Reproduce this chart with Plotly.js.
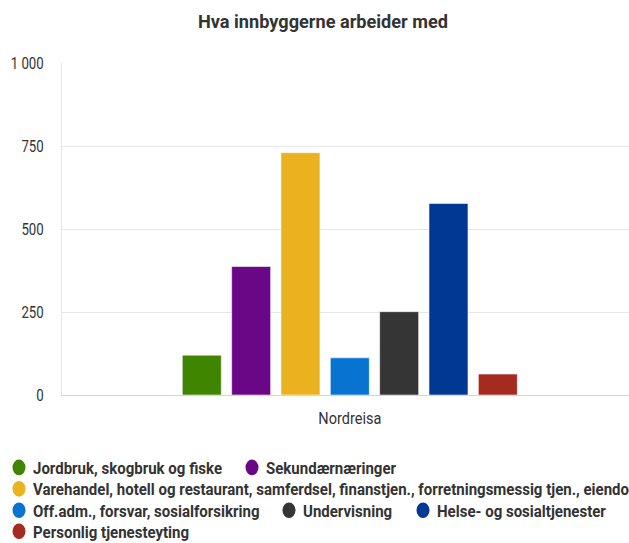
<!DOCTYPE html>
<html><head><meta charset="utf-8">
<script src="https://cdn.plot.ly/plotly-3.0.1.min.js"></script>
<style>html,body{margin:0;padding:0;background:#fff}#c{width:629px;height:543px}</style>
</head><body><div id="c"></div>
<script>
const categories = ["Nordreisa"];
const seriesNames = [
  "Jordbruk, skogbruk og fiske",
  "Sekundærnæringer",
  "Varehandel, hotell og restaurant, samferdsel, finanstjen., forretningsmessig tjen., eiendom",
  "Off.adm., forsvar, sosialforsikring",
  "Undervisning",
  "Helse- og sosialtjenester",
  "Personlig tjenesteyting"
];
const seriesValues = [120, 387, 730, 112, 251, 577, 63];
const seriesColors = ["#3f8500", "#6a0787", "#ebb220", "#0873d0", "#353535", "#013893", "#a52a20"];
const yTicks = [0, 250, 500, 750, 1000];
const chartTitle = "Hva innbyggerne arbeider med";

const FONT = "Roboto, 'Liberation Sans', sans-serif";
const TXT = "#333333";

// plot area in pixels
const PL = 62, PR = 629, PT = 63, PB = 395.5;
const px2x = p => (p - PL) / (PR - PL);
const py2y = p => (PB - p) / (PB - PT);

// legend placement (pixels): row centre y and marker centre x per item
const legendRows = [468, 489.5, 511, 532];
const legendPos = [
  {row: 0, cx: 19}, {row: 0, cx: 252},
  {row: 1, cx: 19},
  {row: 2, cx: 19}, {row: 2, cx: 289}, {row: 2, cx: 423},
  {row: 3, cx: 19}
];

const traces = seriesNames.map((n, i) => ({
  type: "bar", name: n, x: categories, y: [seriesValues[i]],
  marker: {color: seriesColors[i], line: {color: "rgba(255,255,255,0.55)", width: 1}},
  hoverinfo: "y"
}));

const shapes = [], annotations = [];
legendPos.forEach((p, i) => {
  const cy = legendRows[p.row];
  shapes.push({type: "circle", xref: "paper", yref: "paper",
    x0: px2x(p.cx - 6.5), x1: px2x(p.cx + 6.5), y0: py2y(cy + 7.8), y1: py2y(cy - 7.8),
    fillcolor: seriesColors[i], line: {width: 0}, layer: "above"});
  annotations.push({xref: "paper", yref: "paper", x: px2x(p.cx + 13), y: py2y(cy + 0.5),
    xanchor: "left", yanchor: "middle", align: "left", showarrow: false, text: seriesNames[i],
    borderpad: 0, font: {family: FONT, size: 17, color: TXT, weight: "bold"}});
});

const layout = {
  width: 629, height: 543,
  margin: {l: PL, r: 629 - PR, t: PT, b: 543 - PB},
  separators: ", ",
  paper_bgcolor: "#fff", plot_bgcolor: "#fff",
  font: {family: FONT, color: TXT},
  title: {text: chartTitle, x: 0.5135, xanchor: "center", y: 0.961, yanchor: "middle",
          font: {family: FONT, size: 19, color: TXT, weight: "bold"}},
  barmode: "group", bargap: 0.4, bargroupgap: 0.21,
  showlegend: false,
  xaxis: {type: "category", range: [-0.5, 0.485], showgrid: false, zeroline: false,
          showline: true, linecolor: "#ccd6eb", linewidth: 1, ticks: "", ticklabelstandoff: 8,
          tickfont: {family: FONT, size: 17, color: TXT}, fixedrange: true},
  yaxis: {range: [0, 1000], tickvals: yTicks, tickformat: ",d", showgrid: true, gridcolor: "#e6e6e6",
          zeroline: false, showline: true, linecolor: "#e6e6e6", ticks: "", ticklabelstandoff: 14,
          tickfont: {family: FONT, size: 16.5, color: TXT}, fixedrange: true},
  shapes: shapes, annotations: annotations
};

function squeeze(nodes, factor) {
  nodes.forEach(t => {
    const w = t.getComputedTextLength();
    if (w > 0) {
      t.setAttribute("lengthAdjust", "spacingAndGlyphs");
      t.setAttribute("textLength", (w * factor).toFixed(2));
    }
  });
}
function factorFor(node, target) {
  const w = node ? node.getComputedTextLength() : 0;
  return w > 0 ? target / w : 1;
}

Plotly.newPlot("c", traces, layout, {displayModeBar: false, staticPlot: true}).then(gd => {
  const title = gd.querySelector(".gtitle");
  if (title) squeeze([title], factorFor(title, 250));
  const xt = Array.from(gd.querySelectorAll(".xtick text"));
  if (xt.length) squeeze(xt, factorFor(xt[0], 63));
  const yt = Array.from(gd.querySelectorAll(".ytick text"));
  const yTop = yt.find(t => t.textContent.indexOf("000") >= 0);
  if (yt.length) squeeze(yt, factorFor(yTop, 33));
  const at = Array.from(gd.querySelectorAll(".annotation-text"));
  const first = at.find(t => t.textContent === seriesNames[0]);
  if (at.length) squeeze(at, factorFor(first, 189));
});
</script></body></html>
